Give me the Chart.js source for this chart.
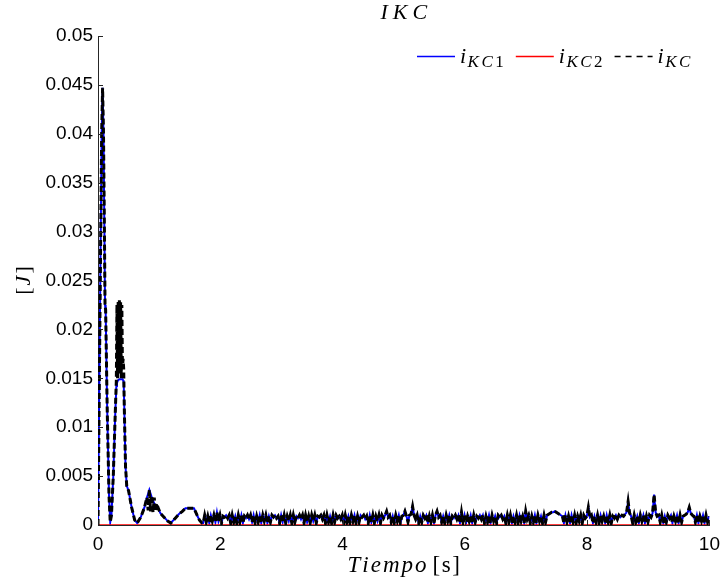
<!DOCTYPE html>
<html>
<head>
<meta charset="utf-8">
<script src="https://cdn.jsdelivr.net/npm/chart.js@4.4.1/dist/chart.umd.min.js"></script>
<style>
  html, body { margin: 0; padding: 0; background: #fff; }
  canvas { display: block; }
</style>
</head>
<body>
<canvas id="chartIKC" width="728" height="584"></canvas>
<script>
// ---- data ----
// first second and a half: two big peaks, two small bumps
const tEarly = [
  0, 0.03, 0.06, 0.075, 0.09, 0.105, 0.115, 0.125, 0.15, 0.18,
  0.20, 0.22, 0.25, 0.28, 0.30, 0.31, 0.32, 0.33, 0.34, 0.35,
  0.36, 0.37, 0.38, 0.39, 0.40, 0.41, 0.42, 0.43, 0.45, 0.47,
  0.50, 0.55, 0.60, 0.64, 0.70, 0.76, 0.80, 0.82, 0.84, 0.86,
  0.88, 0.90, 0.92, 0.94, 0.96, 0.98, 1.02, 1.08, 1.14, 1.19,
  1.25, 1.32, 1.38, 1.43, 1.50, 1.57, 1.62, 1.66, 1.70
];
const iKC1Early = [
  0, 0.020, 0.040, 0.0447, 0.040, 0.030, 0.0225, 0.022, 0.012, 0.003,
  0.0003, 0.001, 0.005, 0.011, 0.0142, 0.0145, 0.0147, 0.0148, 0.0148, 0.0149,
  0.0149, 0.0149, 0.0149, 0.0149, 0.0149, 0.0148, 0.0146, 0.012, 0.006, 0.004,
  0.0035, 0.0018, 0.0005, 0.0002, 0.0008, 0.0018, 0.0028, 0.0032, 0.0036, 0.0032,
  0.0028, 0.0025, 0.0022, 0.0020, 0.0019, 0.0018, 0.0012, 0.0008, 0.0004, 0.0002,
  0.0006, 0.0011, 0.0014, 0.0017, 0.0017, 0.0017, 0.0010, 0.0005, 0.0002
];
const iKCEarly = [
  0, 0.020, 0.040, 0.0447, 0.040, 0.030, 0.0225, 0.022, 0.012, 0.003,
  0.0003, 0.001, 0.005, 0.011, 0.0148, 0.0225, 0.015, 0.0228, 0.0155, 0.0230,
  0.016, 0.0228, 0.015, 0.0225, 0.016, 0.0170, 0.0160, 0.012, 0.006, 0.004,
  0.0035, 0.0018, 0.0005, 0.0002, 0.0008, 0.0018, 0.0028, 0.0015, 0.0036, 0.0014,
  0.0030, 0.0013, 0.0028, 0.0014, 0.0022, 0.0018, 0.0012, 0.0008, 0.0004, 0.0002,
  0.0006, 0.0011, 0.0014, 0.0017, 0.0017, 0.0017, 0.0010, 0.0005, 0.0002
];

// the noisy band from 1.72 s to 10 s, one sample every 0.025 s
const tailStart = 1.72;
const tailStep = 0.025;
const iKCTail = [
  0.0002, 0.0010, 0.0003, 0.0009, 0.0002, 0.0010, 0.0004, 0.0010, 0.0003, 0.0013, 0.0004, 0.0010, 0.0002, 0.0009, 0.0008, 0.0010, 0.0007, 0.0010, 0.0002, 0.0010,
  0.0003, 0.0009, 0.0002, 0.0010, 0.0003, 0.0010, 0.0002, 0.0009, 0.0007, 0.0010, 0.0006, 0.0010, 0.0003, 0.0010, 0.0002, 0.0009, 0.0003, 0.0010, 0.0002, 0.0010,
  0.0004, 0.0010, 0.0002, 0.0009, 0.0003, 0.0010, 0.0008, 0.0010, 0.0007, 0.0009, 0.0002, 0.0010, 0.0003, 0.0010, 0.0002, 0.0009, 0.0004, 0.0010, 0.0002, 0.0010,
  0.0003, 0.0009, 0.0007, 0.0010, 0.0006, 0.0010, 0.0002, 0.0010, 0.0003, 0.0009, 0.0002, 0.0010, 0.0004, 0.0010, 0.0002, 0.0009, 0.0008, 0.0010, 0.0006, 0.0010,
  0.0002, 0.0010, 0.0003, 0.0009, 0.0002, 0.0010, 0.0003, 0.0010, 0.0007, 0.0009, 0.0006, 0.0010, 0.0002, 0.0010, 0.0003, 0.0009, 0.0002, 0.0010, 0.0004, 0.0010,
  0.0002, 0.0009, 0.0003, 0.0010, 0.0008, 0.0010, 0.0006, 0.0009, 0.0002, 0.0010, 0.0003, 0.0010, 0.0002, 0.0009, 0.0004, 0.0010, 0.0002, 0.0010, 0.0007, 0.0010,
  0.0014, 0.0008, 0.0010, 0.0003, 0.0009, 0.0002, 0.0010, 0.0004, 0.0010, 0.0002, 0.0009, 0.0010, 0.0014, 0.0009, 0.0003, 0.0010, 0.0011, 0.0019, 0.0010, 0.0006,
  0.0010, 0.0002, 0.0009, 0.0003, 0.0010, 0.0007, 0.0010, 0.0002, 0.0009, 0.0003, 0.0010, 0.0002, 0.0010, 0.0014, 0.0008, 0.0010, 0.0003, 0.0009, 0.0002, 0.0010,
  0.0004, 0.0010, 0.0002, 0.0009, 0.0007, 0.0010, 0.0006, 0.0010, 0.0002, 0.0013, 0.0003, 0.0010, 0.0002, 0.0009, 0.0004, 0.0010, 0.0002, 0.0010, 0.0003, 0.0009,
  0.0007, 0.0010, 0.0006, 0.0010, 0.0002, 0.0009, 0.0003, 0.0010, 0.0002, 0.0010, 0.0004, 0.0009, 0.0002, 0.0010, 0.0008, 0.0010, 0.0006, 0.0009, 0.0002, 0.0010,
  0.0003, 0.0010, 0.0002, 0.0009, 0.0003, 0.0010, 0.0002, 0.0010, 0.0004, 0.0009, 0.0002, 0.0014, 0.0006, 0.0010, 0.0002, 0.0009, 0.0003, 0.0010, 0.0002, 0.0010,
  0.0004, 0.0009, 0.0002, 0.0010, 0.0003, 0.0010, 0.0011, 0.0012, 0.0013, 0.0013, 0.0014, 0.0013, 0.0012, 0.0011, 0.0010, 0.0009, 0.0002, 0.0010, 0.0003, 0.0009,
  0.0002, 0.0010, 0.0003, 0.0010, 0.0002, 0.0009, 0.0004, 0.0010, 0.0002, 0.0010, 0.0007, 0.0009, 0.0018, 0.0008, 0.0010, 0.0002, 0.0009, 0.0003, 0.0010, 0.0002,
  0.0010, 0.0004, 0.0009, 0.0002, 0.0010, 0.0003, 0.0010, 0.0002, 0.0009, 0.0007, 0.0010, 0.0006, 0.0010, 0.0008, 0.0010, 0.0009, 0.0011, 0.0013, 0.0024, 0.0012,
  0.0009, 0.0002, 0.0010, 0.0003, 0.0009, 0.0002, 0.0010, 0.0004, 0.0010, 0.0002, 0.0009, 0.0003, 0.0010, 0.0008, 0.0012, 0.0031, 0.0013, 0.0009, 0.0010, 0.0003,
  0.0010, 0.0002, 0.0009, 0.0003, 0.0010, 0.0007, 0.0010, 0.0002, 0.0009, 0.0004, 0.0010, 0.0002, 0.0010, 0.0003, 0.0009, 0.0010, 0.0011, 0.0013, 0.0018, 0.0012,
  0.0010, 0.0009, 0.0003, 0.0010, 0.0002, 0.0009, 0.0004, 0.0010, 0.0002, 0.0010, 0.0003, 0.0009
];

// i_KC2 stays at zero over the whole run
const tKC2 = [0, 10];
const iKC2 = [0, 0];

const xTicks = [0, 2, 4, 6, 8, 10];
const yTicks = [0, 0.005, 0.01, 0.015, 0.02, 0.025, 0.03, 0.035, 0.04, 0.045, 0.05];

const seriesLabels = ["i_KC1", "i_KC2", "i_KC"];
const seriesColors = ["#0000ff", "#ff0000", "#000000"];

// ---- build point lists ----
function toPoints(ts, vs) {
  return ts.map((t, i) => ({ x: t, y: vs[i] }));
}
const tailPoints = iKCTail.map((v, i) => ({ x: +(tailStart + i * tailStep).toFixed(3), y: v }));
const kc1Points = toPoints(tEarly, iKC1Early).concat(tailPoints);
const kcPoints = toPoints(tEarly, iKCEarly).concat(tailPoints);
const kc2Points = toPoints(tKC2, iKC2);

const axisColor = "#262626";
const tickFont = { family: "'Liberation Sans', Arial, sans-serif", size: 19 };
const mathFamily = "'Liberation Serif', 'Times New Roman', serif";

// draws text one glyph at a time with extra spacing, returns end x
function spaced(ctx, text, x, y, gap) {
  for (const ch of text) {
    ctx.fillText(ch, x, y);
    x += ctx.measureText(ch).width + gap;
  }
  return x - gap;
}
function spacedWidth(ctx, text, gap) {
  let w = 0;
  for (const ch of text) w += ctx.measureText(ch).width + gap;
  return w - gap;
}

// i with subscript, e.g. "i_KC1"
function drawSubLabel(ctx, label, x, y) {
  const [base, sub] = label.split("_");
  ctx.textBaseline = "alphabetic";
  ctx.textAlign = "left";
  ctx.font = "italic 22px " + mathFamily;
  ctx.fillText(base, x, y);
  x += ctx.measureText(base).width + 1.5;
  for (const ch of sub) {
    ctx.font = (/[0-9]/.test(ch) ? "" : "italic ") + "17px " + mathFamily;
    ctx.fillText(ch, x, y + 4);
    x += ctx.measureText(ch).width + 2.5;
  }
  return x - 2.5;
}

const decor = {
  id: "decor",
  afterDraw(chart) {
    const { ctx, chartArea: a, scales } = chart;
    const xs = scales.x, ys = scales.y;
    ctx.save();

    // inward tick marks
    ctx.strokeStyle = axisColor;
    ctx.lineWidth = 1;
    yTicks.forEach(v => {
      const py = Math.round(ys.getPixelForValue(v)) + 0.5;
      ctx.beginPath();
      ctx.moveTo(a.left, py);
      ctx.lineTo(a.left + 5, py);
      ctx.stroke();
    });
    xTicks.forEach(v => {
      const px = Math.round(xs.getPixelForValue(v)) + 0.5;
      ctx.beginPath();
      ctx.moveTo(px, a.bottom);
      ctx.lineTo(px, a.bottom - 5);
      ctx.stroke();
    });

    ctx.fillStyle = "#000";

    // title
    ctx.font = "italic 22px " + mathFamily;
    ctx.textBaseline = "alphabetic";
    ctx.textAlign = "left";
    const tw = spacedWidth(ctx, "IKC", 5);
    spaced(ctx, "IKC", (a.left + a.right) / 2 - tw / 2, 19, 5);

    // x axis title: italic word + upright unit
    ctx.font = "italic 23px " + mathFamily;
    const w1 = spacedWidth(ctx, "Tiempo", 2);
    ctx.font = "23px " + mathFamily;
    const w2 = spacedWidth(ctx, "[s]", 1.5);
    let x0 = (a.left + a.right) / 2 - (w1 + 6 + w2) / 2;
    ctx.font = "italic 23px " + mathFamily;
    x0 = spaced(ctx, "Tiempo", x0, 572, 2) + 6;
    ctx.font = "23px " + mathFamily;
    spaced(ctx, "[s]", x0, 572, 1.5);

    // y axis title, rotated
    ctx.save();
    ctx.translate(30, (a.top + a.bottom) / 2);
    ctx.rotate(-Math.PI / 2);
    ctx.font = "22px " + mathFamily;
    const wb = ctx.measureText("[").width;
    ctx.font = "italic 22px " + mathFamily;
    const wj = ctx.measureText("J").width;
    let yx = -(wb * 2 + wj + 4) / 2;
    ctx.font = "22px " + mathFamily;
    ctx.fillText("[", yx, 0);
    yx += wb + 2;
    ctx.font = "italic 22px " + mathFamily;
    ctx.fillText("J", yx, 0);
    yx += wj + 2;
    ctx.font = "22px " + mathFamily;
    ctx.fillText("]", yx, 0);
    ctx.restore();

    // legend
    let lx = 417;
    const ly = 56;
    chart.data.datasets.forEach(ds => {
      ctx.beginPath();
      ctx.strokeStyle = ds.borderColor;
      ctx.lineWidth = 1.5;
      ctx.setLineDash(ds.borderDash ? [6, 5] : []);
      ctx.moveTo(lx, ly + 0.5);
      ctx.lineTo(lx + 38, ly + 0.5);
      ctx.stroke();
      ctx.setLineDash([]);
      ctx.fillStyle = "#000";
      lx = drawSubLabel(ctx, ds.label, lx + 43, 63) + 12;
    });

    ctx.restore();
  }
};

const ctx = document.getElementById("chartIKC");

new Chart(ctx, {
  type: "line",
  data: {
    datasets: [
      {
        label: seriesLabels[0],
        data: kc1Points,
        borderColor: seriesColors[0],
        borderWidth: 2,
        pointRadius: 0,
        order: 2,
      },
      {
        label: seriesLabels[1],
        data: kc2Points,
        borderColor: seriesColors[1],
        borderWidth: 1.5,
        pointRadius: 0,
        order: 1,
      },
      {
        label: seriesLabels[2],
        data: kcPoints,
        borderColor: seriesColors[2],
        borderWidth: 3,
        borderDash: [6, 3],
        pointRadius: 0,
        order: 0,
      },
    ],
  },
  options: {
    responsive: false,
    animation: false,
    events: [],
    layout: { padding: { top: 36, right: 10, left: 0, bottom: 0 } },
    plugins: {
      legend: { display: false },
      title: { display: false },
      tooltip: { enabled: false },
    },
    scales: {
      x: {
        type: "linear",
        min: 0,
        max: 10,
        afterBuildTicks: s => { s.ticks = xTicks.map(v => ({ value: v })); },
        ticks: { font: tickFont, color: "#000", padding: 8, maxRotation: 0, autoSkip: false },
        grid: { display: false, drawTicks: false },
        border: { display: true, color: axisColor },
        afterFit: s => { s.height = 59; },
      },
      y: {
        min: 0,
        max: 0.05,
        afterBuildTicks: s => { s.ticks = yTicks.map(v => ({ value: v })); },
        ticks: {
          font: tickFont,
          color: "#000",
          padding: 5,
          callback: v => String(+v.toFixed(3)),
        },
        grid: { display: false, drawTicks: false },
        border: { display: true, color: axisColor },
        afterFit: s => { s.width = 98; },
      },
    },
  },
  plugins: [decor],
});
</script>
</body>
</html>
